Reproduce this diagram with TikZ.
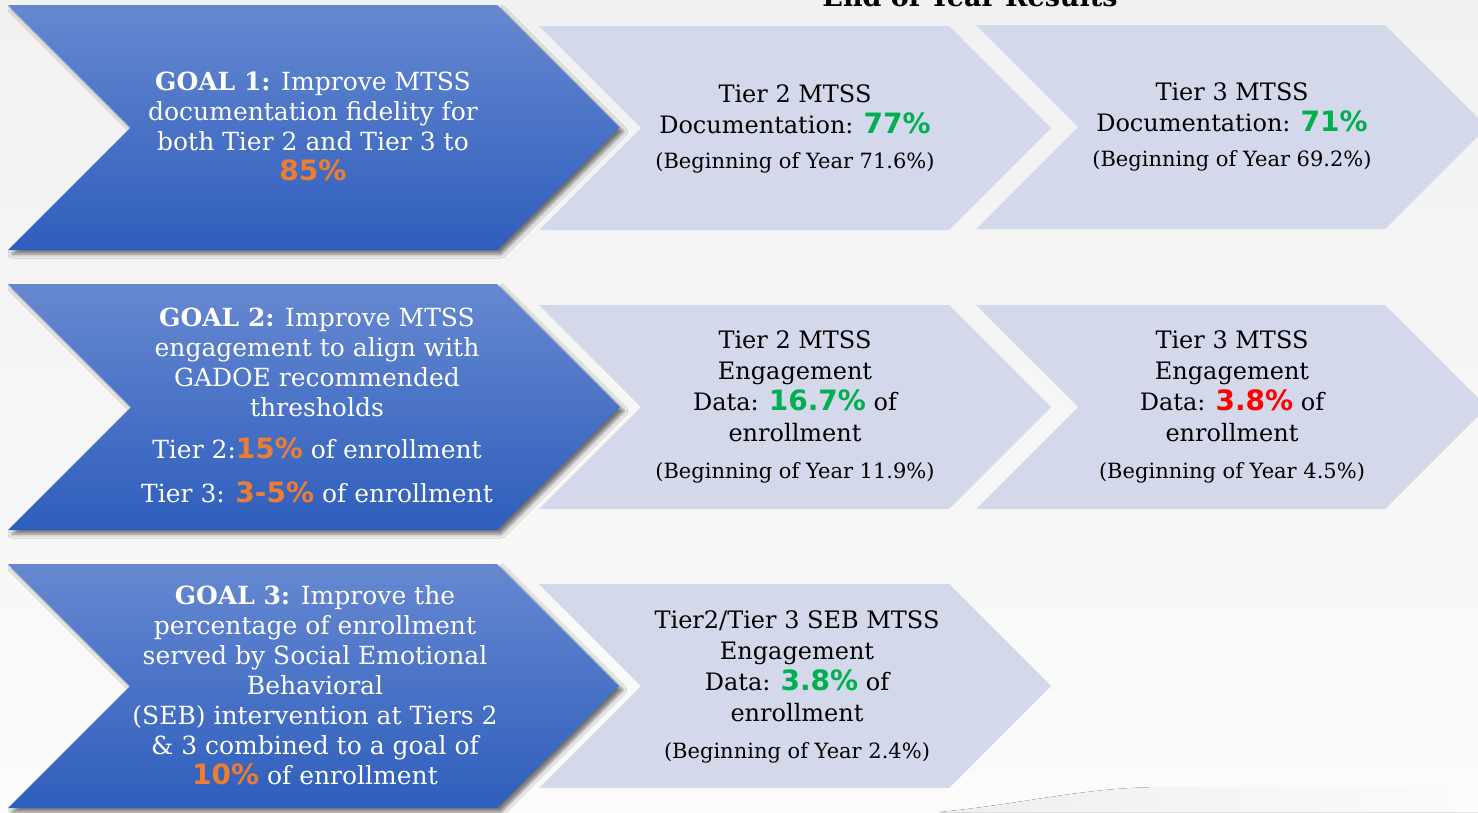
\documentclass[tikz,border=0pt]{standalone}
\usepackage{fontspec}
\setmainfont{DejaVu Serif}
\newfontfamily\numfont{DejaVu Sans}
\usetikzlibrary{shadows,shadows.blur}
\definecolor{goaltop}{HTML}{6688D1}
\definecolor{goalbot}{HTML}{2E5EBC}
\definecolor{resfill}{HTML}{D3D8EA}
\definecolor{bgtop}{HTML}{F1F1F1}
\definecolor{bgbot}{HTML}{FBFBFB}
\definecolor{pctorange}{HTML}{ED7D31}
\definecolor{pctgreen}{HTML}{00B050}
\definecolor{pctred}{HTML}{FF0000}
\newcommand{\pct}[2]{{\numfont\bfseries\fontsize{28}{30}\selectfont\color{#1}#2}}
\newcommand{\boy}[1]{{\fontsize{21}{24}\selectfont #1}}
% chevron: left x, top y, body width, height, style
\newcommand{\chev}[5]{\path[#5] (#1,#2) -- ++(#3,0) -- ++(#4/2,#4/2) -- ++(-#4/2,#4/2) -- ++(-#3,0) -- ++(#4/2,-#4/2) -- cycle;}

\begin{document}
\begin{tikzpicture}[x=1pt,y=-1pt,
    goalshape/.style={top color=goaltop,bottom color=goalbot,
        blur shadow={shadow xshift=4pt,shadow yshift=-4pt,shadow blur radius=4pt,shadow opacity=55}},
    resshape/.style={fill=resfill},
    goaltext/.style={align=center,text=white,font=\fontsize{25}{30}\selectfont},
    restext/.style={align=center,text=black,font=\fontsize{24}{31}\selectfont}]
\useasboundingbox (0,0) rectangle (1478,812);
\clip (0,0) rectangle (1478,812);
\fill[top color=bgtop,bottom color=bgbot] (0,0) rectangle (1478,812);
\fill[left color=gray!13,right color=gray!3] (940,812) .. controls (1030,803) and (1080,788) .. (1160,787) -- (1478,787) -- (1478,812) -- cycle;

\node[anchor=base,font=\bfseries\fontsize{27}{28}\selectfont] (title) at (970,6) {End of Year Results};

% row 1
\chev{8}{5}{489}{245}{goalshape}
\chev{539}{26}{410}{204}{resshape}
\chev{976}{25}{409}{204}{resshape}
\node[goaltext] (goal1) at (313,126) {\textbf{GOAL 1:} Improve MTSS\\documentation fidelity for\\both Tier 2 and Tier 3 to\\\pct{pctorange}{85\%}};
\node[restext] (doc2) at (795,129) {Tier 2 MTSS\\Documentation: \pct{pctgreen}{77\%}\\[4pt]\boy{(Beginning of Year 71.6\%)}};
\node[restext] (doc3) at (1232,127) {Tier 3 MTSS\\Documentation: \pct{pctgreen}{71\%}\\[4pt]\boy{(Beginning of Year 69.2\%)}};

% row 2
\chev{8}{284}{489}{246}{goalshape}
\chev{539}{305}{410}{204}{resshape}
\chev{976}{305}{409}{204}{resshape}
\node[goaltext] (goal2) at (317,405) {\textbf{GOAL 2:} Improve MTSS\\engagement to align with\\GADOE recommended\\thresholds\\[12pt]Tier 2:\pct{pctorange}{15\%} of enrollment\\[14pt]Tier 3: \pct{pctorange}{3-5\%} of enrollment};
\node[restext] (eng2) at (795,407) {Tier 2 MTSS\\Engagement\\Data: \pct{pctgreen}{16.7\%} of\\enrollment\\[6pt]\boy{(Beginning of Year 11.9\%)}};
\node[restext] (eng3) at (1232,407) {Tier 3 MTSS\\Engagement\\Data: \pct{pctred}{3.8\%} of\\enrollment\\[6pt]\boy{(Beginning of Year 4.5\%)}};

% row 3
\chev{8}{564}{489}{244}{goalshape}
\chev{539}{584}{410}{204}{resshape}
\node[goaltext] (goal3) at (315,685) {\textbf{GOAL 3:} Improve the\\percentage of enrollment\\served by Social Emotional\\Behavioral\\(SEB) intervention at Tiers 2\\\& 3 combined to a goal of\\\pct{pctorange}{10\%} of enrollment};
\node[restext] (seb) at (797,687) {Tier2/Tier 3 SEB MTSS\\Engagement\\Data: \pct{pctgreen}{3.8\%} of\\enrollment\\[6pt]\boy{(Beginning of Year 2.4\%)}};
\end{tikzpicture}
\end{document}
